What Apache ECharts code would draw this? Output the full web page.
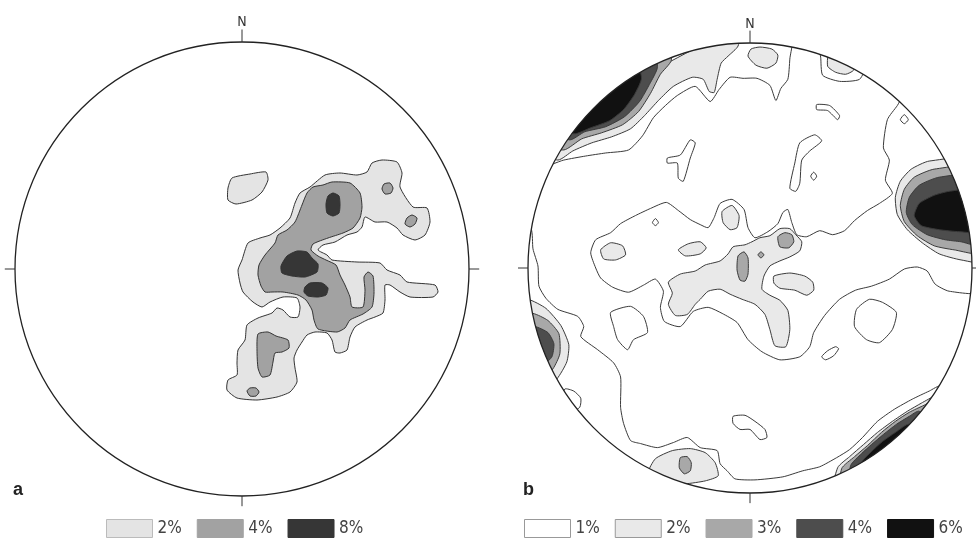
<!DOCTYPE html>
<html>
<head>
<meta charset="utf-8">
<script src="https://cdn.jsdelivr.net/npm/echarts@6/dist/echarts.min.js"></script>
<style>
  * { margin: 0; padding: 0; }
  #chart-container { width: 976px; height: 540px; background: #fff; }
</style>
</head>
<body>
<div id="chart-container"></div>
<script>
// net radius in digitizer units, one per stereonet
var netRadiusA = 227
var netRadiusB = 223

// contour outlines as [east, north] from the net centre
// net a
var a2 = [
  [[-4,-1],[0,9],[6,26],[18,31],[28,34],[38,41],[48,51],[53,66],[58,76],[68,82],[83,94],[98,96],[115,94],[125,97],[130,106],[140,109],[155,107],[160,96],[158,82],[171,62],[185,61],[188,47],[183,34],[173,29],[161,34],[155,41],[145,47],[133,47],[123,52],[120,42],[115,37],[105,34],[93,27],[81,24],[76,19],[85,14],[90,9],[115,7],[138,6],[145,-1],[158,-6],[165,-13],[193,-16],[196,-23],[191,-28],[168,-28],[158,-23],[148,-16],[143,-16],[143,-31],[141,-44],[133,-48],[125,-51],[113,-58],[108,-68],[105,-81],[98,-84],[93,-83],[90,-71],[85,-64],[73,-63],[65,-66],[60,-73],[55,-81],[52,-89],[53,-99],[55,-113],[48,-123],[35,-128],[15,-131],[-5,-129],[-15,-121],[-14,-111],[-5,-106],[-5,-94],[-4,-81],[3,-71],[5,-56],[16,-49],[30,-44],[35,-39],[41,-41],[48,-48],[56,-48],[58,-38],[55,-29],[41,-28],[28,-33],[20,-38],[11,-33],[1,-23],[-2,-14]],
  [[-10,91],[8,95],[24,97],[26,89],[20,77],[10,69],[-6,65],[-14,69],[-14,81]]
]
var a4 = [
  [[81,84],[90,87],[108,86],[118,76],[120,62],[118,51],[111,41],[101,36],[86,31],[71,25],[69,19],[76,13],[84,9],[94,4],[98,-6],[103,-16],[108,-28],[110,-38],[121,-38],[123,-21],[122,-8],[126,-3],[131,-7],[132,-24],[130,-38],[121,-45],[108,-51],[103,-59],[95,-63],[76,-60],[72,-51],[70,-41],[64,-31],[56,-26],[41,-23],[30,-23],[23,-23],[19,-17],[16,-6],[17,4],[23,14],[33,26],[36,34],[45,39],[53,47],[60,64],[65,76],[71,82]],
  [[140,80],[142,85],[148,86],[151,81],[149,76],[143,75]],
  [[163,45],[165,51],[170,54],[175,51],[173,45],[168,42]],
  [[5,-122],[8,-119],[14,-119],[17,-123],[14,-127],[8,-127]],
  [[16,-65],[26,-63],[34,-67],[46,-71],[47,-79],[40,-83],[33,-84],[31,-93],[28,-106],[20,-108],[16,-99],[15,-81]]
]
var a8 = [
  [[86,73],[91,76],[97,73],[98,64],[97,56],[91,53],[85,56],[84,65]],
  [[39,3],[45,13],[55,18],[65,17],[70,11],[76,5],[75,-3],[63,-8],[50,-7],[40,-4]],
  [[63,-18],[68,-14],[80,-14],[86,-19],[84,-26],[76,-28],[66,-27],[62,-23]]
]

// net b
var b1 = [
  [[-210,101],[-187,107],[-165,111],[-145,114],[-122,117],[-108,131],[-97,149],[-85,161],[-73,171],[-55,180],[-40,165],[-31,177],[-20,189],[-7,188],[7,188],[20,181],[26,166],[31,178],[38,187],[40,207],[42,239],[-100,239],[-210,159]],
  [[68,229],[71,209],[73,191],[90,185],[110,187],[118,203],[126,229]],
  [[160,179],[148,161],[138,147],[134,119],[140,107],[136,87],[143,74],[130,64],[118,57],[105,47],[95,37],[83,33],[70,37],[57,31],[47,33],[42,45],[38,58],[33,55],[28,44],[18,36],[5,30],[-2,40],[-6,58],[-18,68],[-30,64],[-36,50],[-42,40],[-50,43],[-60,48],[-72,57],[-84,65],[-100,59],[-115,52],[-130,44],[-140,35],[-155,28],[-160,15],[-155,0],[-150,-10],[-138,-19],[-122,-24],[-107,-17],[-95,-11],[-87,-23],[-90,-39],[-86,-53],[-70,-58],[-57,-43],[-42,-39],[-28,-45],[-13,-54],[-2,-71],[12,-83],[30,-91],[50,-88],[60,-78],[64,-64],[75,-47],[90,-31],[106,-22],[122,-18],[140,-11],[155,-1],[168,1],[178,-3],[186,-16],[200,-23],[235,-23],[250,89],[210,159]],
  [[-235,45],[-220,39],[-218,19],[-213,2],[-212,-18],[-205,-30],[-193,-41],[-173,-48],[-167,-58],[-170,-68],[-153,-81],[-137,-94],[-130,-108],[-130,-138],[-127,-154],[-120,-171],[-110,-174],[-93,-178],[-77,-173],[-63,-168],[-50,-178],[-33,-181],[-30,-194],[-23,-201],[-15,-209],[5,-210],[33,-207],[53,-201],[70,-197],[87,-188],[100,-180],[113,-168],[128,-152],[145,-140],[163,-130],[180,-122],[192,-117],[230,-160],[10,-251],[-190,-201],[-250,-31]],
  [[-186,-120],[-177,-122],[-170,-129],[-171,-138],[-180,-143],[-192,-140]],
  [[-83,109],[-70,112],[-60,127],[-55,124],[-60,109],[-67,86],[-72,89],[-73,104],[-83,104]],
  [[40,79],[45,104],[50,124],[65,132],[72,126],[60,116],[52,107],[50,84],[46,76]],
  [[67,162],[80,161],[90,151],[88,147],[78,156],[67,157]],
  [[61,91],[64,95],[67,91],[64,87]],
  [[151,147],[155,152],[159,147],[155,143]],
  [[107,-41],[120,-31],[133,-34],[147,-44],[143,-61],[130,-74],[117,-71],[105,-58]],
  [[72,-88],[78,-82],[86,-78],[89,-80],[84,-87],[76,-91]],
  [[-140,-44],[-120,-38],[-107,-48],[-103,-64],[-117,-71],[-123,-81],[-133,-71],[-137,-58]],
  [[-98,45],[-95,49],[-92,45],[-95,42]],
  [[-17,-147],[-5,-146],[5,-152],[15,-160],[17,-168],[10,-170],[0,-160],[-10,-160],[-17,-154]]
]
var b2 = [
  [[-193,107],[-178,116],[-159,124],[-139,130],[-120,138],[-106,151],[-92,166],[-77,180],[-58,189],[-47,187],[-41,175],[-36,174],[-33,187],[-29,203],[-22,210],[-12,220],[-10,240],[-230,120]],
  [[-2,210],[6,201],[17,198],[26,203],[28,211],[22,217],[10,219],[1,217]],
  [[78,200],[86,194],[96,192],[104,196],[110,215],[80,215]],
  [[180,106],[162,98],[151,86],[146,70],[148,53],[158,38],[173,25],[190,14],[212,8],[240,6],[245,108]],
  [[-223,-31],[-205,-40],[-190,-57],[-182,-76],[-184,-93],[-194,-110],[-208,-120],[-250,-120],[-250,-31]],
  [[-102,-203],[-95,-189],[-78,-181],[-60,-179],[-45,-183],[-35,-193],[-32,-206],[-45,-211],[-65,-214],[-85,-215]],
  [[88,-198],[100,-187],[114,-175],[128,-163],[143,-152],[158,-142],[172,-134],[186,-126],[194,-118],[230,-150],[80,-240]],
  [[-82,-14],[-70,-6],[-55,-3],[-45,3],[-30,7],[-22,14],[-17,21],[-5,23],[2,26],[10,30],[20,32],[30,39],[40,39],[46,33],[52,26],[50,17],[40,11],[30,7],[20,2],[14,-8],[12,-21],[20,-27],[30,-32],[38,-42],[40,-61],[36,-78],[25,-77],[20,-61],[15,-46],[5,-36],[-8,-31],[-20,-26],[-30,-21],[-42,-23],[-50,-31],[-55,-36],[-63,-46],[-75,-47],[-82,-36],[-78,-25]],
  [[24,-8],[40,-5],[55,-8],[63,-14],[64,-22],[57,-27],[45,-22],[30,-20],[24,-15]],
  [[-28,56],[-18,62],[-11,52],[-13,40],[-20,38],[-27,45]],
  [[-72,18],[-62,24],[-50,26],[-44,20],[-50,14],[-65,12]],
  [[-150,18],[-140,25],[-128,22],[-125,13],[-135,8],[-147,9]]
]
var b3 = [
  [[-187,117],[-169,128],[-149,134],[-128,142],[-112,155],[-100,173],[-90,192],[-79,206],[-85,235],[-220,125]],
  [[185,98],[165,90],[155,78],[151,62],[155,46],[168,32],[185,22],[205,18],[235,15],[240,100]],
  [[-218,-45],[-203,-52],[-192,-65],[-191,-85],[-198,-100],[-210,-110],[-245,-110],[-245,-45]],
  [[-70,-188],[-63,-187],[-59,-193],[-60,-201],[-66,-204],[-71,-198]],
  [[92,-199],[105,-187],[118,-176],[132,-163],[146,-152],[160,-143],[175,-136],[182,-133],[210,-160],[90,-240]],
  [[28,31],[35,35],[42,33],[44,26],[39,20],[30,21]],
  [[-12,12],[-6,16],[-2,10],[-2,-6],[-5,-13],[-10,-12],[-13,-2]],
  [[8,13],[11,16],[14,13],[11,10]]
]
var b4 = [
  [[-181,127],[-166,135],[-145,140],[-126,150],[-111,165],[-101,182],[-93,199],[-100,225],[-210,140]],
  [[190,90],[170,82],[160,70],[157,55],[163,43],[178,33],[196,28],[212,26],[235,22],[240,92]],
  [[-216,-58],[-203,-64],[-197,-75],[-199,-88],[-207,-95],[-240,-95],[-240,-58]],
  [[101,-196],[112,-184],[122,-175],[134,-165],[147,-155],[160,-147],[170,-142],[200,-170],[100,-230]]
]
var b6 = [
  [[-177,133],[-160,139],[-141,146],[-127,157],[-116,172],[-109,188],[-115,205],[-195,145]],
  [[200,76],[185,72],[170,64],[165,52],[172,42],[190,38],[210,36],[235,36],[235,78]],
  [[112,-193],[122,-182],[133,-172],[146,-163],[160,-155],[185,-185],[110,-220]]
]

var levelsA = ['2%', '4%', '8%']
var levelsB = ['1%', '2%', '3%', '4%', '6%']

var fillsA = ['#e4e4e4', '#a2a2a2', '#363636']
var fillsB = ['#ffffff', '#e9e9e9', '#a8a8a8', '#4d4d4d', '#111111']

var chartDom = document.getElementById('chart-container')
var myChart = echarts.init(chartDom, null, { renderer: 'canvas' })

function contourSeries(name, polys, idx, R, fill, stroke) {
  return {
    name: name,
    type: 'custom',
    coordinateSystem: 'cartesian2d',
    xAxisIndex: idx,
    yAxisIndex: idx,
    clip: false,
    silent: true,
    itemStyle: { color: fill },
    data: polys.map(function (p, i) { return [i, 0] }),
    renderItem: function (params, api) {
      var pts = polys[api.value(0)].map(function (p) { return api.coord(p) })
      var c = api.coord([0, 0])
      var s = api.size([R, R])
      return {
        type: 'polygon',
        shape: { points: pts, smooth: 0.2 },
        style: { fill: fill, stroke: stroke, lineWidth: 1 },
        clipPath: { type: 'ellipse', shape: { cx: c[0], cy: c[1], rx: s[0], ry: s[1] } }
      }
    }
  }
}

function frameSeries(idx, R) {
  return {
    type: 'custom',
    coordinateSystem: 'cartesian2d',
    xAxisIndex: idx,
    yAxisIndex: idx,
    clip: false,
    silent: true,
    z: 10,
    data: [[0, 0]],
    renderItem: function (params, api) {
      var c = api.coord([0, 0])
      var s = api.size([R, R])
      function tick(a, b) {
        var p = api.coord(a), q = api.coord(b)
        return { type: 'line', shape: { x1: p[0], y1: p[1], x2: q[0], y2: q[1] }, style: { stroke: '#333', lineWidth: 1 } }
      }
      var lbl = api.coord([0, R * 1.085])
      return {
        type: 'group',
        children: [
          { type: 'ellipse', shape: { cx: c[0], cy: c[1], rx: s[0], ry: s[1] }, style: { fill: 'none', stroke: '#222', lineWidth: 1.3 } },
          tick([0, R], [0, R * 1.055]),
          tick([0, -R], [0, -R * 1.045]),
          tick([-R, 0], [-R * 1.045, 0]),
          tick([R, 0], [R * 1.045, 0]),
          { type: 'text', x: lbl[0], y: lbl[1], style: { text: 'N', fill: '#333', fontSize: 14, fontFamily: "'Liberation Sans Narrow', 'DejaVu Sans Condensed', sans-serif", align: 'center', verticalAlign: 'middle' } }
        ]
      }
    }
  }
}

var series = []
var polysA = [a2, a4, a8]
levelsA.forEach(function (l, i) {
  series.push(contourSeries(l, polysA[i], 0, netRadiusA, fillsA[i], '#333'))
})
series.push(frameSeries(0, netRadiusA))
var polysB = [b1, b2, b3, b4, b6]
levelsB.forEach(function (l, i) {
  series.push(contourSeries(l, polysB[i], 1, netRadiusB, fillsB[i], '#3a3a3a'))
})
series.push(frameSeries(1, netRadiusB))

var legendText = {
  fontSize: 17,
  color: '#444',
  fontFamily: "'Liberation Sans Narrow', 'DejaVu Sans Condensed', sans-serif"
}

var option = {
  animation: false,
  backgroundColor: '#fff',
  title: [
    { text: 'a', left: 13, top: 481, padding: 0, textStyle: { fontSize: 18, fontWeight: 'bold', color: '#222', fontFamily: 'Liberation Sans' } },
    { text: 'b', left: 523, top: 481, padding: 0, textStyle: { fontSize: 18, fontWeight: 'bold', color: '#222', fontFamily: 'Liberation Sans' } }
  ],
  legend: [
    {
      left: 106, top: 519, width: 440, padding: 0, itemWidth: 46, itemHeight: 18, itemGap: 15, icon: 'rect',
      selectedMode: false, textStyle: legendText,
      data: levelsA.map(function (l, i) {
        return { name: l, itemStyle: { color: fillsA[i], borderColor: i === 0 ? '#bbb' : fillsA[i], borderWidth: 1 } }
      })
    },
    {
      left: 524, top: 519, width: 450, padding: 0, itemWidth: 46, itemHeight: 18, itemGap: 15, icon: 'rect',
      selectedMode: false, textStyle: legendText,
      data: levelsB.map(function (l, i) {
        return { name: l, itemStyle: { color: fillsB[i], borderColor: i < 2 ? '#999' : fillsB[i], borderWidth: 1 } }
      })
    }
  ],
  grid: [
    { left: 15, top: 42, width: 454, height: 454 },
    { left: 528, top: 43, width: 444, height: 450 }
  ],
  xAxis: [
    { gridIndex: 0, type: 'value', min: -netRadiusA, max: netRadiusA, show: false },
    { gridIndex: 1, type: 'value', min: -netRadiusB, max: netRadiusB, show: false }
  ],
  yAxis: [
    { gridIndex: 0, type: 'value', min: -netRadiusA, max: netRadiusA, show: false },
    { gridIndex: 1, type: 'value', min: -netRadiusB, max: netRadiusB, show: false }
  ],
  series: series
}

myChart.setOption(option)
window.addEventListener('resize', myChart.resize)
</script>
</body>
</html>
